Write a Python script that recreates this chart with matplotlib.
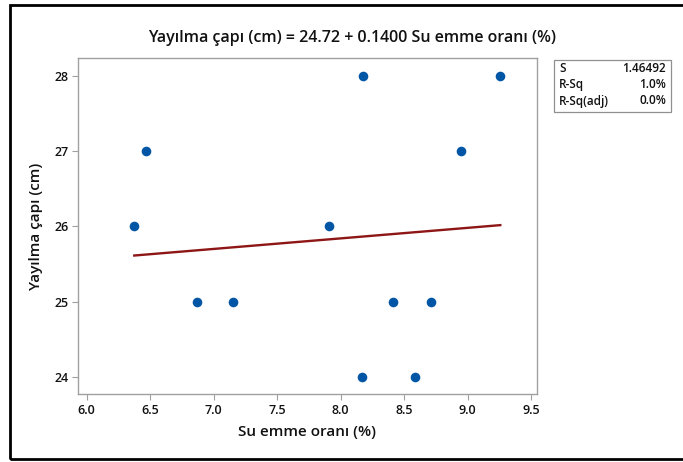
import matplotlib
matplotlib.use("Agg")
import matplotlib.pyplot as plt
from matplotlib.patches import Rectangle
import numpy as np

plt.rcParams['font.family'] = ['Open Sans', 'DejaVu Sans']

# Data
su_emme = [6.375, 6.467, 6.866, 7.155, 7.908, 8.176, 8.168, 8.41, 8.588, 8.709, 8.95, 9.257]
yayilma = [26, 27, 25, 25, 26, 28, 24, 25, 24, 25, 27, 28]
intercept = 24.72
slope = 0.1400
stats_labels = ["S", "R-Sq", "R-Sq(adj)"]
stats_values = ["1.46492", "1.0%", "0.0%"]
x_ticks = [6.0, 6.5, 7.0, 7.5, 8.0, 8.5, 9.0, 9.5]
y_ticks = [24, 25, 26, 27, 28]

W, H = 683, 462
fig = plt.figure(figsize=(W / 100, H / 100), dpi=100)

def fx(px):
    return px / W

def fy(py):
    return 1 - py / H

# outer border
fig.patches.append(Rectangle((fx(10), fy(459)), fx(700) - fx(10), fy(5) - fy(459),
                             transform=fig.transFigure, fill=False, edgecolor='black',
                             linewidth=2.0, zorder=0))

ax = fig.add_axes([fx(78), fy(394), fx(537) - fx(78), fy(58) - fy(394)])
ax.scatter(su_emme, yayilma, s=48, color='#0055A5', zorder=3, linewidths=0)
xl = np.array([min(su_emme), max(su_emme)])
ax.plot(xl, intercept + slope * xl, color='#8E1616', linewidth=1.7, zorder=2)

ax.set_xlim(5.932, 9.546)
ax.set_ylim(23.774, 28.235)
ax.set_xticks(x_ticks)
ax.set_xticklabels([f"{t:.1f}" for t in x_ticks])
ax.set_yticks(y_ticks)
ax.set_yticklabels([str(t) for t in y_ticks])
for s in ax.spines.values():
    s.set_color('#a0a0a0')
    s.set_linewidth(1.0)
ax.tick_params(direction='out', length=4, width=0.8, color='#a0a0a0',
               labelsize=9, labelcolor='#111111', pad=3)
for lab in ax.get_xticklabels() + ax.get_yticklabels():
    lab.set_fontweight('semibold')

ax.set_xlabel("Su emme oranı (%)", fontsize=11, fontweight='semibold', color='#111111', labelpad=6)
ax.set_ylabel("Yayılma çapı (cm)", fontsize=11, fontweight='semibold', color='#111111', labelpad=8)

fig.text(fx(352), fy(38), "Yayılma çapı (cm) = 24.72 + 0.1400 Su emme oranı (%)",
         ha='center', va='center', fontsize=11.5, fontweight='semibold', color='#111111')

# stats box
bx0, bx1, by0, by1 = 554, 671, 60, 112
fig.patches.append(Rectangle((fx(bx0), fy(by1)), fx(bx1) - fx(bx0), fy(by0) - fy(by1),
                             transform=fig.transFigure, fill=False, edgecolor='#909090',
                             linewidth=0.9))
for i, (lab, val) in enumerate(zip(stats_labels, stats_values)):
    yy = 69 + i * 16
    fig.text(fx(bx0 + 5), fy(yy), lab, ha='left', va='center', fontsize=8.5,
             fontweight='semibold', color='#111111')
    fig.text(fx(bx1 - 5), fy(yy), val, ha='right', va='center', fontsize=8.5,
             fontweight='semibold', color='#111111')

fig.savefig("out.png", dpi=100)
